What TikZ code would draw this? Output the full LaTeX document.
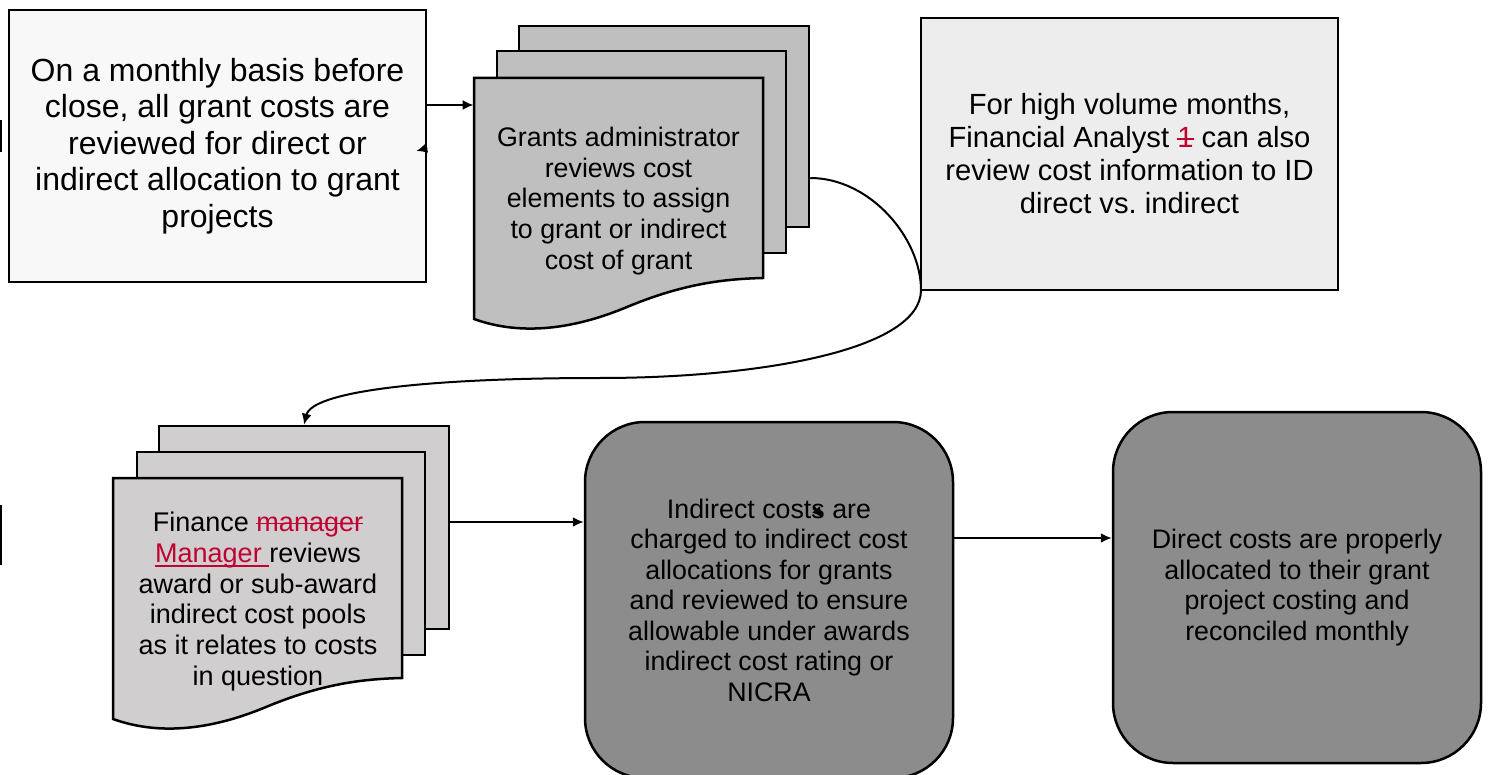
\documentclass[tikz,border=0pt]{standalone}
\usepackage{fontspec}
\setmainfont{Liberation Sans}
\usetikzlibrary{arrows.meta}
\definecolor{startfill}{RGB}{248,248,248}
\definecolor{notefill}{RGB}{237,237,237}
\definecolor{grantsfill}{RGB}{191,191,191}
\definecolor{financefill}{RGB}{208,206,207}
\definecolor{stepfill}{RGB}{140,140,140}
\definecolor{rmark}{RGB}{192,0,48}
\newlength\markw
\newcommand\strikeword[1]{\settowidth{\markw}{#1}\rlap{#1}\rule[0.28em]{\markw}{0.06em}}
\newcommand\underword[1]{\settowidth{\markw}{#1}\rlap{#1}\rule[-0.16em]{\markw}{0.06em}}
\frenchspacing

\begin{document}
\begin{tikzpicture}[x=0.5pt,y=-0.5pt,>={Latex[length=5.5pt,width=5pt]},
  box/.style={draw,line width=1.25pt,align=center,inner sep=0pt},
  page/.style={draw,line width=1.25pt,inner sep=0pt},
  doctext/.style={align=center,inner sep=0pt,font=\fontsize{13.4}{15.4}\selectfont},
  stepbox/.style={box,fill=stepfill,rounded corners=30pt,minimum width=184pt,
    font=\fontsize{13.4}{15.25}\selectfont},
  flow/.style={->,line width=1pt}]
\useasboundingbox (0,0) rectangle (1489,775);
% The start box
\node[box,fill=startfill,minimum width=208.5pt,minimum height=136pt,
  font=\fontsize{16}{18.25}\selectfont] (monthly) at (217.5,146)
  {On a monthly basis before\\close, all grant costs are\\reviewed for direct or\\indirect allocation to grant\\projects};
% The note box
\node[box,fill=notefill,minimum width=208.5pt,minimum height=136pt,
  font=\fontsize{14.6}{16.5}\selectfont] (analyst) at (1129.5,154)
  {For high volume months,\\Financial Analyst \textcolor{rmark}{\strikeword{1}} can also\\review cost information to ID\\direct vs. indirect};
% The grants pages
\node[page,fill=grantsfill,minimum width=145pt,minimum height=100.5pt] (grantsback) at (664,126.5) {};
\node[page,fill=grantsfill,minimum width=144.5pt,minimum height=101pt] (grantsmid) at (641.5,152) {};
\draw[line width=1.25pt,fill=grantsfill] (474,78) -- (763,78) -- (763,278)
  .. controls (720,279) and (680,285) .. (627,307)
  .. controls (560,335) and (510,332) .. (474,319) -- cycle;
\node[doctext,minimum width=144.5pt] (grants) at (618.5,201)
  {Grants administrator\\reviews cost\\elements to assign\\to grant or indirect\\cost of grant};
% The finance pages
\node[page,fill=financefill,minimum width=145pt,minimum height=101.5pt] (financeback) at (304,527.5) {};
\node[page,fill=financefill,minimum width=144pt,minimum height=101.5pt] (financemid) at (281,553.5) {};
\draw[line width=1.25pt,fill=financefill] (113,478) -- (402,478) -- (402,678)
  .. controls (359,679) and (319,685) .. (266,707)
  .. controls (199,735) and (149,732) .. (113,719) -- cycle;
\node[doctext,minimum width=144.5pt,font=\fontsize{13.5}{15.35}\selectfont] (finance) at (258,601.5)
  {Finance \textcolor{rmark}{\strikeword{manager}}\\\textcolor{rmark}{\underword{Manager\ }}reviews\\award or sub-award\\indirect cost pools\\as it relates to costs\\in question};
% The rounded steps
\node[stepbox,minimum height=178pt] (indirect) at (769,600)
  {Indirect costs are\\charged to indirect cost\\allocations for grants\\and reviewed to ensure\\allowable under awards\\indirect cost rating or\\NICRA};
\node[stepbox,minimum height=175.5pt] (direct) at (1297,587.5)
  {Direct costs are properly\\allocated to their grant\\project costing and\\reconciled monthly};
% The connectors
\coordinate (ma) at ([yshift=20.5pt]monthly.east);
\draw[flow] (ma) -- (ma -| grants.west);
\draw[flow] ([yshift=-1pt]monthly.east) -- ([xshift=-5.5pt,yshift=-2.5pt]monthly.east);
\coordinate (ga) at ([yshift=-25.75pt]grantsback.east);
\draw[flow] (ga) .. controls (870,178) and (921,238) .. (921,290)
  .. controls (921,350) and (760,378) .. (600,378)
  .. controls (420,378) and (312,392) .. (financeback.north);
\coordinate (fa) at ([yshift=2.75pt]financeback.east);
\draw[flow] (fa) -- (fa -| indirect.west);
\coordinate (ia) at ([yshift=31pt]indirect.east);
\draw[flow] (ia) -- (ia -| direct.west);
\draw[flow] (814,507) -- (823,518);
% The edge marks
\draw[line width=1pt] (1,120) -- (1,152);
\draw[line width=1pt] (1,505) -- (1,565);
\end{tikzpicture}
\end{document}
